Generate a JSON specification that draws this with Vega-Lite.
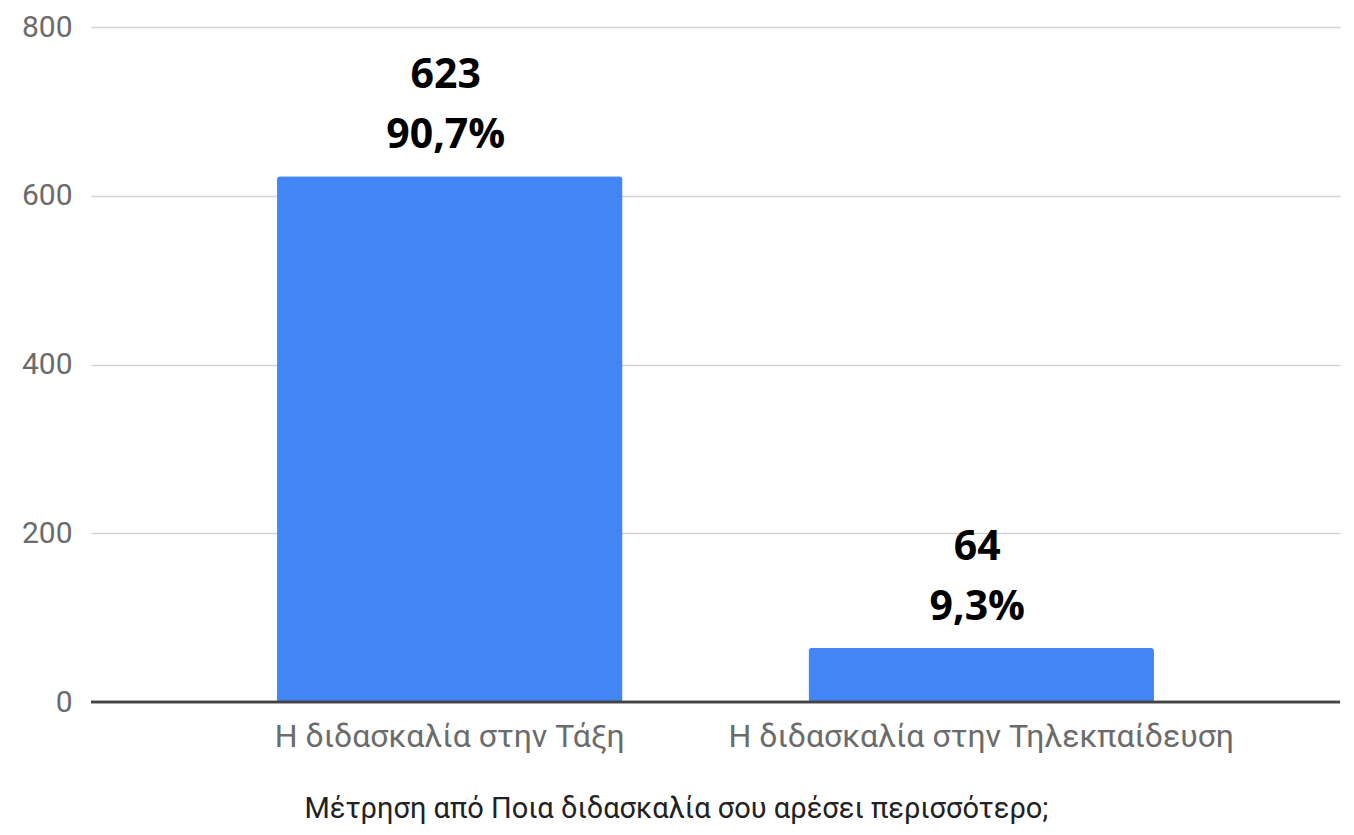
{
  "$schema": "https://vega.github.io/schema/vega-lite/v6.json",
  "width": 1249,
  "height": 675,
  "autosize": {"type": "none"},
  "padding": {"left": 91, "top": 27, "right": 14, "bottom": 133},
  "background": "white",
  "config": {"view": {"stroke": null}},
  "data": {"values": [
    {"category": "Η διδασκαλία στην Τάξη", "count": 623, "label": "623\n90,7%"},
    {"category": "Η διδασκαλία στην Τηλεκπαίδευση", "count": 64, "label": "64\n9,3%"}
  ]},
  "encoding": {
    "x": {"field": "category", "type": "nominal", "sort": null,
      "scale": {"paddingInner": 0.35, "paddingOuter": 0.35},
      "axis": {"title": "Μέτρηση από Ποια διδασκαλία σου αρέσει περισσότερο;", "labelAngle": 0,
        "labelFont": "Roboto", "labelFontSize": 32, "labelColor": "#6b6b6b", "labelPadding": 19, "labelLimit": 0,
        "ticks": false, "domain": false,
        "titleFont": "Roboto", "titleFontSize": 29, "titleFontWeight": "normal", "titleColor": "#222222", "titlePadding": 42,
        "titleX": 585}},
    "y": {"field": "count", "type": "quantitative",
      "scale": {"domain": [0, 800]},
      "axis": {"title": null, "values": [0, 200, 400, 600, 800], "labelFont": "Roboto", "labelFontSize": 30,
        "labelColor": "#6b6b6b", "labelPadding": 19, "ticks": false, "domain": false,
        "grid": true, "gridColor": "#d3d3d3", "gridWidth": 1.5}}
  },
  "layer": [
    {"mark": {"type": "bar", "color": "#4285F4", "cornerRadiusTopLeft": 3, "cornerRadiusTopRight": 3}},
    {"mark": {"type": "rule", "color": "#444444", "strokeWidth": 2.5},
      "encoding": {"x": null, "y": {"datum": 0, "type": "quantitative"}}},
    {"mark": {"type": "text", "font": "Open Sans", "fontWeight": "bold", "fontSize": 41, "color": "#000000",
      "baseline": "alphabetic", "dy": -88, "dx": -4, "lineBreak": "\n", "lineHeight": 60},
      "encoding": {"text": {"field": "label"}}}
  ]
}
